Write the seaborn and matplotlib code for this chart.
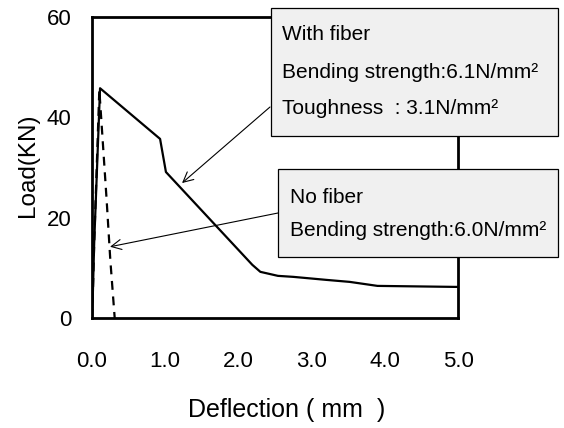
import matplotlib
matplotlib.use("Agg")
import matplotlib.pyplot as plt
import seaborn as sns
import pandas as pd
from matplotlib.patches import Rectangle

# Data
fiber_x = [0.0, 0.01, 0.03, 0.11, 0.93, 1.01, 2.19, 2.30, 2.54, 2.75, 3.20, 3.52, 3.90, 4.96, 5.0]
fiber_y = [0.0, 4.0, 15.0, 45.8, 35.7, 29.1, 10.6, 9.2, 8.4, 8.2, 7.6, 7.2, 6.4, 6.2, 6.2]
nofiber_x = [0.0, 0.01, 0.03, 0.10, 0.20, 0.25, 0.31]
nofiber_y = [0.0, 4.0, 15.0, 45.5, 23.5, 11.6, 0.0]
xticks = [0, 1, 2, 3, 4, 5]
xticklabels = ["0.0", "1.0", "2.0", "3.0", "4.0", "5.0"]
yticks = [0, 20, 40, 60]
yticklabels = ["0", "20", "40", "60"]

sns.set_style("white")
plt.rcParams['font.family'] = ['Liberation Sans', 'DejaVu Sans']
plt.rcParams['text.color'] = 'black'
plt.rcParams['axes.labelcolor'] = 'black'

W, H = 564, 428
fig = plt.figure(figsize=(W / 100, H / 100), dpi=100)
ax = fig.add_axes([92 / W, 1 - 318 / H, (458 - 92) / W, (318 - 17) / H])

df1 = pd.DataFrame({"x": fiber_x, "y": fiber_y})
df2 = pd.DataFrame({"x": nofiber_x, "y": nofiber_y})
sns.lineplot(data=df1, x="x", y="y", ax=ax, color="black", lw=1.6, sort=False, estimator=None)
sns.lineplot(data=df2, x="x", y="y", ax=ax, color="black", lw=1.6, sort=False, estimator=None,
             linestyle=(0, (4, 3)))

ax.set_xlim(0, 5)
ax.set_ylim(0, 60)
ax.set_xticks(xticks)
ax.set_xticklabels(xticklabels)
ax.set_yticks(yticks)
ax.set_yticklabels(yticklabels)
ax.tick_params(axis="both", direction="in", length=4, width=0.8, labelsize=16,
               colors="black", labelcolor="black")
ax.tick_params(axis="x", pad=24)
ax.tick_params(axis="y", pad=15)
for s in ax.spines.values():
    s.set_linewidth(2.0)
    s.set_color("black")
ax.set_xlabel("Deflection ( mm  )", fontsize=18, color="black")
ax.xaxis.set_label_coords((287 - 92) / (458 - 92), -(410 - 318) / (318 - 17))
ax.xaxis.label.set_va("center")
ax.set_ylabel("Load(KN)", fontsize=17.5, color="black")
ax.yaxis.set_label_coords(-(92 - 28) / (458 - 92), (318 - 165) / (318 - 17))
ax.yaxis.label.set_va("center")

def box(l, t, r, b):
    rect = Rectangle((l / W, 1 - b / H), (r - l) / W, (b - t) / H, transform=fig.transFigure,
                     facecolor="#f0f0f0", edgecolor="black", lw=0.9, zorder=5)
    fig.add_artist(rect)

fs = 15
box(271, 8, 558, 136)
fig.text(282 / W, 1 - 34 / H, "With fiber", fontsize=fs, va="center", zorder=6, color="black")
fig.text(282 / W, 1 - 72 / H, "Bending strength:6.1N/mm²", fontsize=fs, va="center", zorder=6, color="black")
fig.text(282 / W, 1 - 109 / H, "Toughness  : 3.1N/mm²", fontsize=fs, va="center", zorder=6, color="black")

box(278, 169, 558, 257)
fig.text(290 / W, 1 - 197 / H, "No fiber", fontsize=fs, va="center", zorder=6, color="black")
fig.text(290 / W, 1 - 231 / H, "Bending strength:6.0N/mm²", fontsize=fs, va="center", zorder=6, color="black")

ax.annotate("", xy=(1.23, 26.9), xycoords="data", xytext=(270, H - 107), textcoords="figure pixels",
            arrowprops=dict(arrowstyle="->", color="black", lw=0.8, shrinkA=0, shrinkB=0,
                            mutation_scale=18), annotation_clip=False)
ax.annotate("", xy=(0.246, 14.2), xycoords="data", xytext=(278, H - 213), textcoords="figure pixels",
            arrowprops=dict(arrowstyle="->", color="black", lw=0.8, shrinkA=0, shrinkB=0,
                            mutation_scale=18), annotation_clip=False)

fig.savefig("out.png", dpi=100)
